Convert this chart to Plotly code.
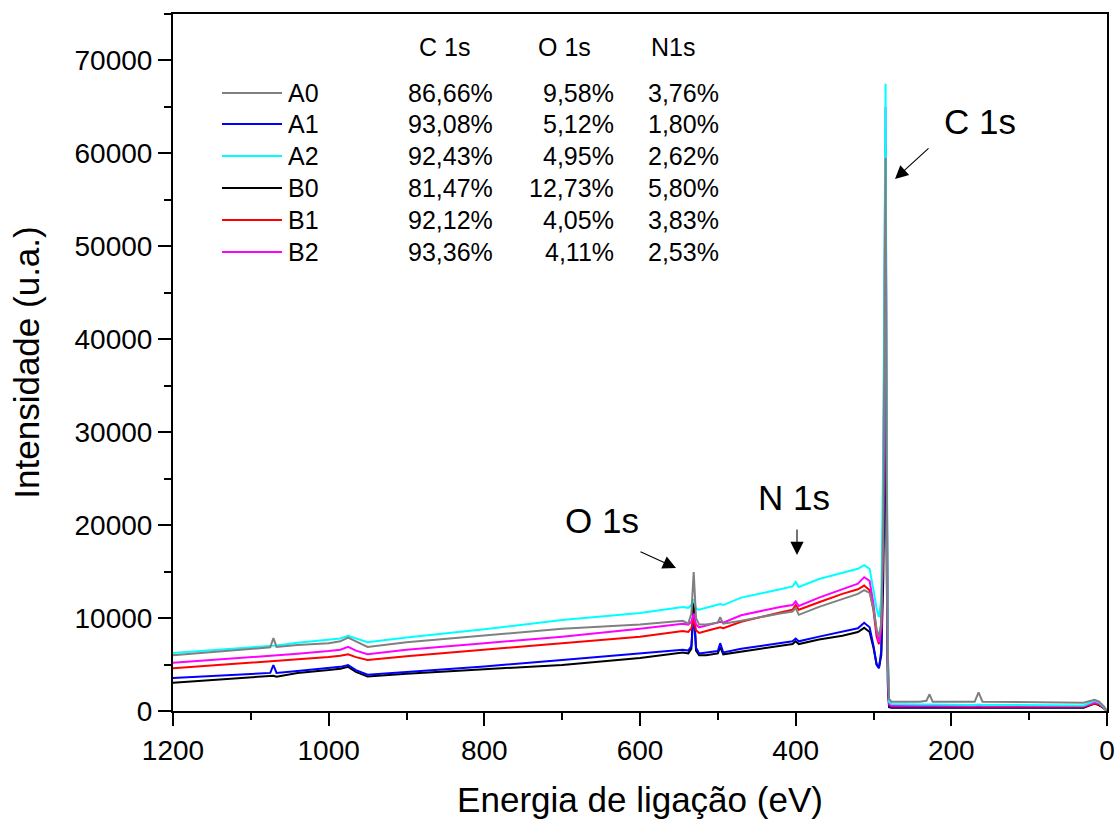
import plotly.graph_objects as go

# ---------------- data ----------------
energy = [1200, 1100, 1075, 1071, 1067, 1040, 1000, 985, 975, 965,
          950, 900, 800, 700, 600, 545, 538, 534, 531, 528,
          524, 515, 500, 497, 493, 470, 420, 404, 400, 396,
          370, 340, 320, 312, 305, 300, 296, 293, 290, 287.5,
          285.5, 284.5, 283, 281.5, 280, 277, 240, 232, 228, 224,
          170, 165, 160, 100, 30, 16, 10, 4, 0]

A0 = [6000, 6700, 6850, 7850, 6900, 7100, 7300, 7500, 7900, 7500,
      6900, 7400, 8100, 8850, 9300, 9700, 9400, 10500, 14950, 10000,
      9300, 9300, 9500, 10100, 9400, 9700, 10500, 10700, 11100, 10350,
      11200, 12000, 12600, 13000, 12700, 11000, 8800, 8000, 9500, 20000,
      45000, 59500, 25000, 6000, 1300, 1000, 1000, 1100, 1800, 1000,
      1000, 2000, 1000, 950, 900, 1200, 1000, 500, 0]

A1 = [3550, 4000, 4100, 4950, 4100, 4300, 4600, 4750, 4950, 4400,
      3900, 4200, 4800, 5500, 6250, 6600, 6500, 7000, 10500, 6800,
      6200, 6300, 6450, 7300, 6300, 6700, 7300, 7500, 7800, 7500,
      8000, 8500, 8900, 9500, 9000, 7000, 5000, 4600, 6500, 18000,
      38000, 48000, 20000, 3000, 500, 400, 400, 400, 450, 400,
      400, 450, 400, 400, 400, 900, 700, 300, 0]

A2 = [6250, 6900, 7050, 7100, 7050, 7350, 7650, 7800, 8100, 7800,
      7400, 7900, 8800, 9800, 10550, 11200, 11100, 11400, 12000, 11000,
      10900, 11100, 11400, 11500, 11400, 12200, 13100, 13400, 13900, 13350,
      14200, 14900, 15300, 15700, 15300, 13000, 11000, 10100, 12000, 28000,
      55000, 67500, 32000, 6000, 1000, 750, 700, 700, 750, 700,
      650, 700, 650, 600, 600, 1100, 900, 400, 0]

B0 = [3050, 3600, 3700, 3800, 3700, 4100, 4400, 4550, 4750, 4200,
      3700, 4000, 4500, 4950, 5700, 6300, 6200, 6700, 12000, 6500,
      6000, 6000, 6200, 6900, 6100, 6400, 7000, 7200, 7500, 7200,
      7700, 8100, 8500, 8950, 8500, 6800, 5000, 4650, 6000, 14000,
      28000, 33000, 15000, 2500, 400, 350, 350, 350, 400, 350,
      350, 400, 350, 350, 350, 800, 600, 300, 0]

B1 = [4600, 5200, 5350, 5400, 5350, 5550, 5800, 5950, 6100, 5800,
      5500, 5900, 6600, 7300, 8000, 8600, 8500, 8900, 9900, 8700,
      8400, 8600, 8900, 9000, 8900, 9600, 10600, 10900, 11400, 10900,
      11700, 12600, 13100, 13500, 13000, 10800, 8000, 7200, 8800, 20000,
      47000, 61000, 26000, 4500, 700, 500, 500, 500, 550, 500,
      450, 500, 450, 450, 450, 800, 700, 300, 0]

B2 = [5200, 5800, 5950, 6000, 5950, 6150, 6450, 6600, 6900, 6500,
      6100, 6600, 7300, 8000, 8850, 9400, 9300, 9600, 10500, 9300,
      9000, 9200, 9500, 9600, 9500, 10300, 11200, 11400, 11800, 11300,
      12200, 13100, 13700, 14400, 14000, 11500, 8500, 7400, 9000, 22000,
      50000, 65000, 28000, 5000, 800, 600, 600, 600, 650, 600,
      550, 600, 550, 550, 550, 900, 800, 400, 0]

series_names = ["A0", "A1", "A2", "B0", "B1", "B2"]
series_values = [A0, A1, A2, B0, B1, B2]
series_colors = ["#808080", "#0000ff", "#00ffff", "#000000", "#ff0000", "#ff00ff"]
draw_order = ["B0", "A1", "B1", "B2", "A2", "A0"]

table_headers = ["C 1s", "O 1s", "N1s"]
c1s_pct = ["86,66%", "93,08%", "92,43%", "81,47%", "92,12%", "93,36%"]
o1s_pct = ["9,58%", "5,12%", "4,95%", "12,73%", "4,05%", "4,11%"]
n1s_pct = ["3,76%", "1,80%", "2,62%", "5,80%", "3,83%", "2,53%"]

peak_labels = ["C 1s", "O 1s", "N 1s"]

# ---------------- figure ----------------
W, H = 1118, 819
L, R, T, B = 173, 11, 14, 108
XMAX, XMIN = 1200, 0
YMIN, YMAX = 0, 75000
pw, ph = W - L - R, H - T - B


def px2x(px):
    return XMAX - (px - L) / pw * (XMAX - XMIN)


def py2y(py):
    return YMIN + (T + ph - py) / ph * (YMAX - YMIN)


def px2paper(px):
    return (px - L) / pw


def py2paper(py):
    return (T + ph - py) / ph


fig = go.Figure()
for name in draw_order:
    i = series_names.index(name)
    fig.add_trace(go.Scatter(x=energy, y=series_values[i], mode="lines", name=name,
                             line=dict(color=series_colors[i], width=2),
                             showlegend=False))

FONT = "Liberation Sans, Arial, sans-serif"
annotations = []
shapes = []

# custom legend / composition table
row_y = [93, 124, 156, 188, 220, 252]
for i, name in enumerate(series_names):
    yp = py2paper(row_y[i])
    shapes.append(dict(type="line", xref="paper", yref="paper",
                       x0=px2paper(222), x1=px2paper(282), y0=yp, y1=yp,
                       line=dict(color=series_colors[i], width=2)))
    annotations.append(dict(xref="paper", yref="paper", x=px2paper(286), y=yp,
                            text=name, showarrow=False, xanchor="left", yanchor="middle",
                            font=dict(size=25, family=FONT, color="black")))
    for col_x, vals in zip([495, 616, 721], [c1s_pct, o1s_pct, n1s_pct]):
        annotations.append(dict(xref="paper", yref="paper", x=px2paper(col_x), y=yp,
                                text=vals[i], showarrow=False, xanchor="right", yanchor="middle",
                                font=dict(size=25, family=FONT, color="black")))
for hx, htxt in zip([444, 564, 673], table_headers):
    annotations.append(dict(xref="paper", yref="paper", x=px2paper(hx), y=py2paper(47),
                            text=htxt, showarrow=False, xanchor="center", yanchor="middle",
                            font=dict(size=25, family=FONT, color="black")))

# peak labels
for (cx, cy), txt in zip([(980, 122), (602, 520), (794, 497)], peak_labels):
    annotations.append(dict(xref="paper", yref="paper", x=px2paper(cx), y=py2paper(cy),
                            text=txt, showarrow=False, xanchor="center", yanchor="middle",
                            font=dict(size=35, family=FONT, color="black")))

# arrows (head, tail) in pixels
for (hx, hy), (tx, ty) in [((895, 179), (930, 147)), ((676, 568), (639, 551)), ((797, 555), (797, 528))]:
    annotations.append(dict(xref="x", yref="y", x=px2x(hx), y=py2y(hy),
                            axref="pixel", ayref="pixel", ax=tx - hx, ay=ty - hy,
                            text="", showarrow=True, arrowhead=2, arrowsize=2.4,
                            arrowwidth=1.1, arrowcolor="black", standoff=0))

axis_common = dict(showline=True, linecolor="black", linewidth=2, mirror=True,
                   ticks="outside", ticklen=13, tickwidth=2, tickcolor="black",
                   showgrid=False, zeroline=False, automargin=False,
                   tickfont=dict(size=28, family=FONT, color="black"))

fig.update_layout(
    width=W, height=H,
    margin=dict(l=L, r=R, t=T, b=B, pad=0),
    paper_bgcolor="white", plot_bgcolor="white",
    annotations=annotations, shapes=shapes,
    xaxis=dict(range=[XMAX, XMIN], dtick=200, tick0=0,
               minor=dict(ticks="outside", ticklen=7, tickwidth=2, tickcolor="black", dtick=100),
               title=dict(text="Energia de ligação (eV)", standoff=23,
                          font=dict(size=35, family=FONT, color="black")),
               **axis_common),
    yaxis=dict(range=[YMIN, YMAX], dtick=10000, tick0=0, tickformat="d",
               minor=dict(ticks="outside", ticklen=7, tickwidth=2, tickcolor="black", dtick=5000),
               title=dict(text="Intensidade (u.a.)", standoff=24,
                          font=dict(size=35, family=FONT, color="black")),
               **axis_common),
)

fig.write_html("out.html")
